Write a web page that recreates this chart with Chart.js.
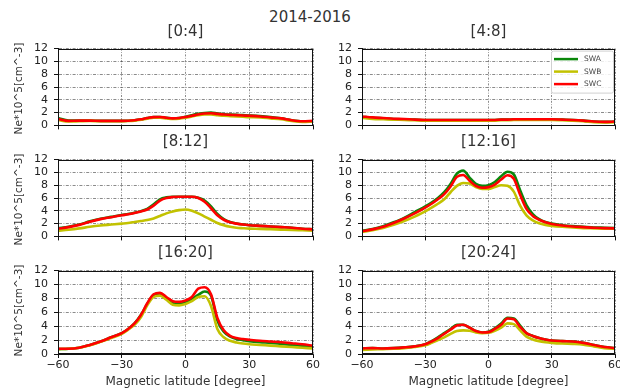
<!DOCTYPE html>
<html>
<head>
<meta charset="utf-8">
<script src="https://cdn.jsdelivr.net/npm/chart.js@4.4.0/dist/chart.umd.min.js"></script>
<style>
  body { margin: 0; width: 620px; height: 390px; background: #fff; position: relative; overflow: hidden; font-family: "DejaVu Sans", sans-serif; }
  .panel { position: absolute; }
  .txt { position: absolute; text-align: center; white-space: nowrap; color: #333; z-index: 2; }
</style>
</head>
<body>
<div class="txt" style="left:210px;top:8px;width:200px;line-height:19px;font-size:15px;">2014-2016</div>
<script>
// magnetic latitude samples shared by every panel
const lat = [-60,-55,-50,-45,-40,-35,-30,-27,-24,-21,-18,-15,-12,-9,-6,-3,0,3,6,9,12,15,18,21,24,27,30,35,40,45,50,55,60];
const xTickValues = [-60, -30, 0, 30, 60];
const xTickLabels = ['\u221260', '\u221230', '0', '30', '60'];
const yTickValues = [0, 2, 4, 6, 8, 10, 12];
const seriesNames = ['SWA', 'SWB', 'SWC'];
const seriesColors = ['#0a870a', '#c2c200', '#ff0000'];
const panelTitles = ['[0:4]', '[4:8]', '[8:12]', '[12:16]', '[16:20]', '[20:24]'];

// [0:4]
const swa0to4 = [1.15,0.75,0.75,0.75,0.7,0.7,0.7, 0.72,0.8,0.95,1.15,1.3,1.3,1.2,1.1,1.15,1.35,1.6,1.8,1.95,2.0,1.85,1.75,1.7,1.65,1.6, 1.55,1.45,1.3,1.1,0.8,0.65,0.65];
const swb0to4 = [0.85,0.6,0.65,0.7,0.65,0.65,0.65, 0.68,0.75,0.9,1.05,1.2,1.2,1.1,1.0,1.05,1.2,1.4,1.6,1.7,1.7,1.6,1.5,1.45,1.4,1.35, 1.3,1.25,1.1,0.95,0.7,0.55,0.6];
const swc0to4 = [1.0,0.7,0.75,0.75,0.7,0.7,0.7, 0.72,0.8,0.95,1.15,1.3,1.32,1.2,1.1,1.15,1.3,1.5,1.7,1.85,1.9,1.8,1.7,1.65,1.6,1.55, 1.5,1.4,1.25,1.1,0.8,0.65,0.7];
// [4:8]
const swa4to8 = [1.35,1.2,1.1,1.0,0.95,0.9,0.85, 0.85,0.85,0.85,0.85,0.85,0.85,0.85,0.85,0.85,0.85,0.85,0.9,0.9,0.95,0.95,0.95,0.95,0.95,0.95, 0.95,0.9,0.85,0.75,0.6,0.55,0.6];
const swb4to8 = [1.2,1.0,0.95,0.9,0.85,0.8,0.75, 0.75,0.75,0.75,0.75,0.75,0.75,0.75,0.75,0.75,0.75,0.75,0.8,0.8,0.85,0.85,0.85,0.85,0.85,0.85, 0.85,0.8,0.75,0.65,0.5,0.45,0.5];
const swc4to8 = [1.4,1.25,1.15,1.05,1.0,0.9,0.85, 0.85,0.85,0.85,0.85,0.85,0.85,0.85,0.85,0.85,0.85,0.85,0.9,0.9,0.95,0.95,0.95,0.95,0.95,0.95, 0.95,0.9,0.85,0.75,0.6,0.55,0.6];
// [8:12]
const swa8to12 = [1.25,1.5,1.85,2.35,2.75,3.05,3.35, 3.5,3.7,3.95,4.3,5.0,5.8,6.1,6.2,6.2,6.2,6.2,6.05,5.6,4.7,3.5,2.7,2.25,2.0,1.85, 1.75,1.65,1.55,1.45,1.35,1.2,1.1];
const swb8to12 = [0.9,1.05,1.25,1.5,1.7,1.85,2.0, 2.1,2.25,2.4,2.55,2.8,3.2,3.6,3.9,4.1,4.2,4.0,3.6,3.1,2.6,2.1,1.75,1.5,1.35,1.28, 1.22,1.18,1.12,1.06,1.0,0.95,0.9];
const swc8to12 = [1.2,1.45,1.8,2.3,2.7,3.0,3.3, 3.45,3.65,3.9,4.2,4.8,5.6,6.0,6.15,6.2,6.2,6.2,6.0,5.4,4.4,3.3,2.6,2.2,2.0,1.85, 1.75,1.65,1.55,1.45,1.35,1.2,1.1];
// [12:16]
const swa12to16 = [0.85,1.15,1.6,2.2,2.9,3.8,4.7, 5.3,6.0,6.9,8.2,9.8,10.3,9.2,8.2,7.9,8.0,8.5,9.4,10.1,9.7,7.2,4.9,3.5,2.7,2.25, 2.0,1.75,1.6,1.5,1.4,1.35,1.3];
const swb12to16 = [0.7,0.95,1.3,1.8,2.4,3.1,3.9, 4.5,5.1,5.8,6.9,7.9,8.35,8.25,7.7,7.4,7.4,7.7,8.0,7.9,7.0,4.8,3.3,2.5,2.05,1.8, 1.65,1.5,1.4,1.3,1.25,1.2,1.2];
const swc12to16 = [0.8,1.1,1.5,2.1,2.8,3.6,4.5, 5.1,5.8,6.6,7.8,9.3,9.6,8.7,7.9,7.6,7.7,8.1,8.9,9.55,9.0,6.5,4.3,3.2,2.6,2.2, 1.95,1.7,1.55,1.45,1.35,1.3,1.25];
// [16:20]
const swa16to20 = [0.7,0.75,0.9,1.3,1.8,2.4,3.0, 3.6,4.4,5.6,7.2,8.5,8.7,8.0,7.3,7.2,7.4,7.9,8.5,9.0,8.4,4.8,3.2,2.5,2.15,2.0, 1.85,1.7,1.6,1.45,1.3,1.15,1.0];
const swb16to20 = [0.7,0.75,0.9,1.25,1.75,2.3,2.9, 3.5,4.2,5.3,7.0,8.2,8.4,7.8,7.1,7.0,7.2,7.6,8.2,8.3,6.9,3.6,2.4,1.9,1.65,1.5, 1.4,1.3,1.2,1.1,1.0,0.9,0.8];
const swc16to20 = [0.75,0.75,0.9,1.3,1.8,2.4,3.0, 3.6,4.4,5.6,7.3,8.6,8.8,8.2,7.6,7.5,7.7,8.2,9.4,9.6,8.6,5.2,3.4,2.6,2.3,2.15, 2.05,1.9,1.8,1.7,1.55,1.4,1.2];
// [20:24]
const swa20to24 = [0.8,0.85,0.8,0.85,0.95,1.1,1.4, 1.85,2.4,3.0,3.6,4.2,4.2,3.8,3.3,3.1,3.2,3.7,4.4,5.2,5.1,4.1,3.0,2.6,2.3,2.1, 1.95,1.85,1.8,1.6,1.3,1.0,0.85];
const swb20to24 = [0.6,0.65,0.7,0.75,0.85,1.0,1.25, 1.6,2.0,2.4,2.9,3.3,3.4,3.35,3.1,3.0,3.05,3.35,3.8,4.4,4.3,3.4,2.5,2.1,1.85,1.7, 1.6,1.5,1.45,1.35,1.1,0.85,0.75];
const swc20to24 = [0.8,0.85,0.8,0.85,0.95,1.1,1.4, 1.8,2.3,2.9,3.5,4.1,4.2,3.8,3.3,3.1,3.15,3.6,4.2,5.1,5.0,3.9,3.0,2.6,2.3,2.1, 1.95,1.85,1.8,1.6,1.3,1.0,0.85];

const panelSeries = [
  [swa0to4, swb0to4, swc0to4],
  [swa4to8, swb4to8, swc4to8],
  [swa8to12, swb8to12, swc8to12],
  [swa12to16, swb12to16, swc12to16],
  [swa16to20, swb16to20, swc16to20],
  [swa20to24, swb20to24, swc20to24]
];

Chart.defaults.font.family = '"DejaVu Sans", sans-serif';

// plot area geometry
const colX = [58, 362], colW = [255, 253];
const rowY = [44, 155, 266], rowH = 88;
const titleY = [31, 141, 252];
const yw = 40, pt = 8, pr = 8;

// full black box around the axes
const framePlugin = {
  id: 'frame',
  afterDraw(chart) {
    const { ctx, chartArea: a } = chart;
    ctx.save();
    ctx.strokeStyle = '#111';
    ctx.lineWidth = 1;
    ctx.strokeRect(Math.round(a.left) + 0.5, Math.round(a.top) + 0.5, Math.round(a.right - a.left) - 1, Math.round(a.bottom - a.top) - 1);
    ctx.restore();
  }
};

// matplotlib-like legend box inside upper right corner
const legendBoxPlugin = {
  id: 'legendBox',
  afterDraw(chart) {
    const { ctx, chartArea: a } = chart;
    const w = 62, h = 42;
    const x = a.right - w - 2, y = a.top + 2;
    ctx.save();
    ctx.fillStyle = 'rgba(255,255,255,0.85)';
    ctx.strokeStyle = '#d0d0d0';
    ctx.lineWidth = 1;
    ctx.beginPath();
    ctx.roundRect(x + 0.5, y + 0.5, w, h, 2);
    ctx.fill();
    ctx.stroke();
    ctx.font = '7.5px "DejaVu Sans"';
    ctx.textBaseline = 'middle';
    chart.data.datasets.forEach((ds, i) => {
      const ly = y + 8.5 + i * 12.5;
      ctx.strokeStyle = ds.borderColor;
      ctx.lineWidth = 2.5;
      ctx.beginPath();
      ctx.moveTo(x + 3, ly);
      ctx.lineTo(x + 27, ly);
      ctx.stroke();
      ctx.fillStyle = '#444';
      ctx.fillText(ds.label, x + 33, ly);
    });
    ctx.restore();
  }
};

function addText(text, cx, cy, size, lh, rotate) {
  const d = document.createElement('div');
  d.className = 'txt';
  d.textContent = text;
  d.style.width = '200px';
  d.style.left = (cx - 100) + 'px';
  d.style.top = (cy - lh / 2) + 'px';
  d.style.lineHeight = lh + 'px';
  d.style.fontSize = size + 'px';
  if (rotate) d.style.transform = 'rotate(-90deg)';
  document.body.appendChild(d);
}

panelSeries.forEach((series, i) => {
  const col = i % 2, row = Math.floor(i / 2);
  const bottom = row === 2;
  const xh = bottom ? 22 : 6;
  const W = colW[col] + yw + pr, H = rowH + pt + xh;

  const wrap = document.createElement('div');
  wrap.className = 'panel';
  wrap.style.left = (colX[col] - yw) + 'px';
  wrap.style.top = (rowY[row] - pt) + 'px';
  wrap.style.width = W + 'px';
  wrap.style.height = H + 'px';
  const cv = document.createElement('canvas');
  cv.width = W; cv.height = H;
  cv.style.width = W + 'px'; cv.style.height = H + 'px';
  wrap.appendChild(cv);
  document.body.appendChild(wrap);

  const datasets = series.map((vals, k) => ({
    label: seriesNames[k],
    data: lat.map((x, j) => ({ x: x, y: vals[j] })),
    borderColor: seriesColors[k],
    borderWidth: 2.6,
    pointRadius: 0,
    fill: false,
    cubicInterpolationMode: 'monotone',
    order: 2 - k
  }));

  new Chart(cv, {
    type: 'line',
    data: { datasets },
    options: {
      responsive: false,
      animation: false,
      devicePixelRatio: 1,
      layout: { autoPadding: false, padding: { top: pt, right: pr, left: 0, bottom: 0 } },
      plugins: { legend: { display: false }, tooltip: { enabled: false } },
      scales: {
        x: {
          type: 'linear', min: -60, max: 60,
          afterBuildTicks: s => { s.ticks = xTickValues.map(v => ({ value: v })); },
          afterFit: s => { s.height = xh; },
          ticks: {
            display: bottom, autoSkip: false, padding: 1, color: '#222', font: { size: 11 },
            maxRotation: 0,
            callback: v => xTickLabels[xTickValues.indexOf(v)]
          },
          grid: { color: 'rgba(60,60,60,0.75)', lineWidth: 0.8, tickLength: 4, tickColor: '#111', tickWidth: 1, tickBorderDash: [] },
          border: { display: true, color: '#111', width: 1, dash: [2, 1.5, 0.8, 1.5] }
        },
        y: {
          min: 0, max: 12,
          afterBuildTicks: s => { s.ticks = yTickValues.map(v => ({ value: v })); },
          afterFit: s => { s.width = yw; },
          ticks: { autoSkip: false, padding: 6, color: '#222', font: { size: 11 } },
          grid: { color: 'rgba(60,60,60,0.75)', lineWidth: 0.8, tickLength: 4, tickColor: '#111', tickWidth: 1, tickBorderDash: [] },
          border: { display: true, color: '#111', width: 1, dash: [3, 1.5, 0.8, 1.5] }
        }
      }
    },
    plugins: i === 1 ? [framePlugin, legendBoxPlugin] : [framePlugin]
  });

  const cx = colX[col] + colW[col] / 2;
  addText(panelTitles[i], cx, titleY[row], 15, 18, false);
  if (col === 0) addText('Ne*10^5[cm^-3]', 17.5, rowY[row] + rowH / 2, 10.5, 13, true);
  if (bottom) addText('Magnetic latitude [degree]', cx, 381, 12, 16, false);
});
</script>
</body>
</html>
